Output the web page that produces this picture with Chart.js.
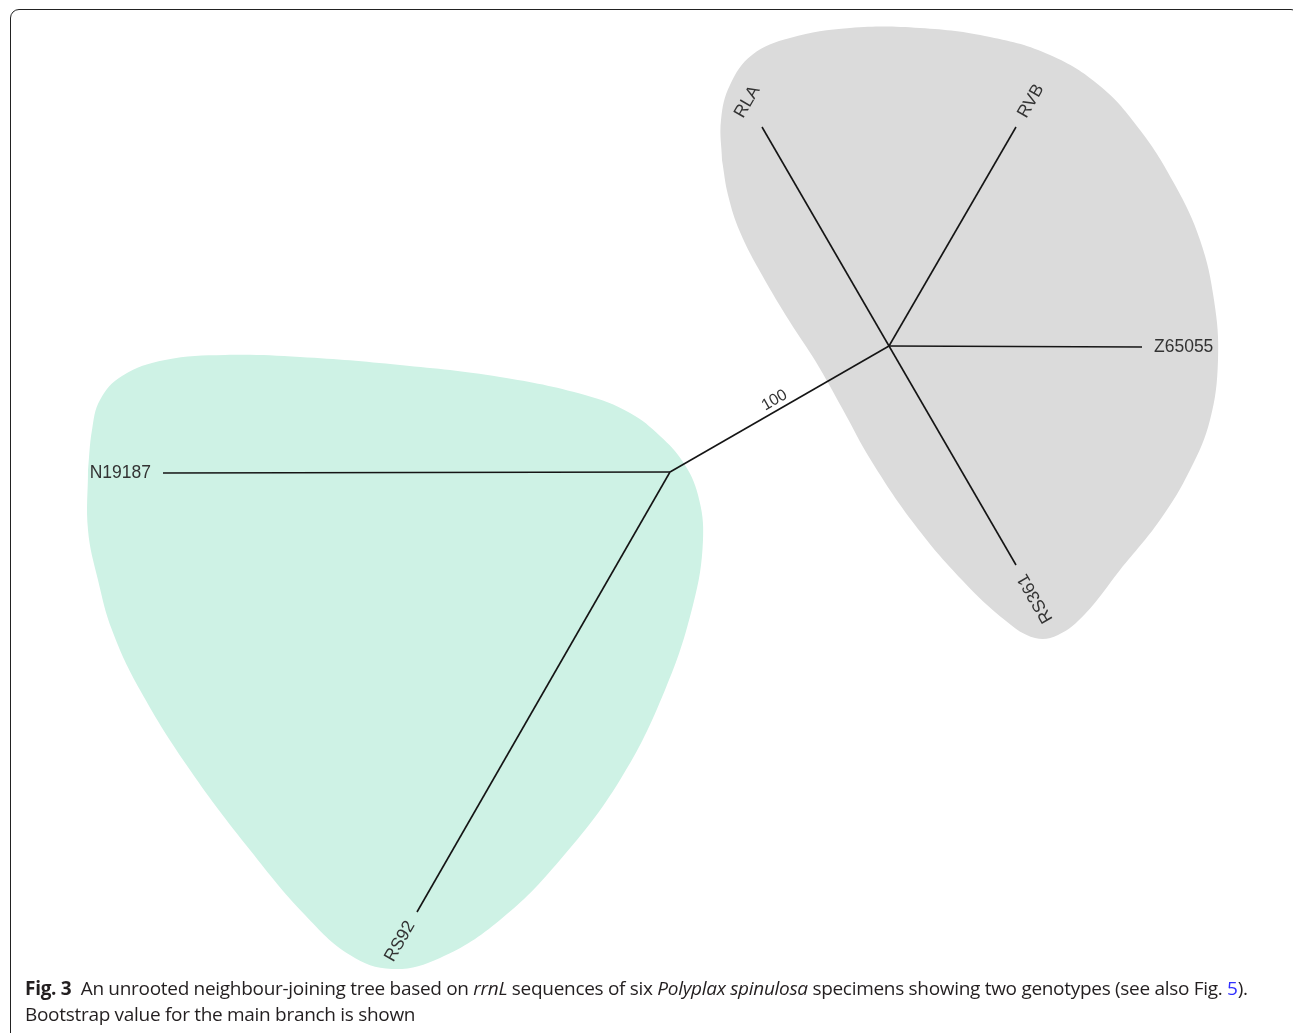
<!DOCTYPE html>
<html>
<head>
<meta charset="utf-8">
<script src="https://cdn.jsdelivr.net/npm/chart.js@4.4.0/dist/chart.umd.min.js"></script>
<style>
  html, body { margin: 0; padding: 0; background: #fff; }
  body { width: 1293px; height: 1033px; position: relative; overflow: hidden; }
  #frame {
    position: absolute; left: 10px; top: 9px; width: 1290px; height: 1040px;
    border: 1.5px solid #222; border-radius: 9px; box-sizing: border-box;
  }
  #wrap { position: absolute; left: 0; top: 0; width: 1293px; height: 1033px; }
  #caption {
    position: absolute; left: 25px; top: 975px; width: 1265px;
    font-family: "Open Sans", sans-serif; font-size: 19px; line-height: 26px;
    color: #231f20; letter-spacing: -0.3px; white-space: nowrap;
  }
  #caption b { font-weight: 700; }
  #caption .ref { color: #3030ff; }
</style>
</head>
<body>
<div id="frame"></div>
<div id="wrap"><canvas id="tree" width="1293" height="1033"></canvas></div>
<div id="caption"><b>Fig. 3</b>&nbsp; An unrooted neighbour-joining tree based on <i>rrnL</i> sequences of six <i>Polyplax spinulosa</i> specimens showing two genotypes (see also Fig. <span class="ref">5</span>).<br>Bootstrap value for the main branch is shown</div>
<script>
// internal nodes (left genotype, right genotype)
const nodeX = [670, 889];
const nodeY = [472, 346];

// tips
const tipLabels = ['N19187', 'RS92', 'RLA', 'RVB', 'Z65055', 'RS361'];
const tipX = [163, 417, 762, 1016, 1142, 1016];
const tipY = [473, 912, 127, 127, 347, 565];
const tipParent = [0, 0, 1, 1, 1, 1];

const bootstrap = ['100'];

// genotype outlines
const greenX = [88, 88, 98, 112, 140, 190, 250, 305, 350, 392, 440, 500, 560, 620, 665, 693, 703, 698, 683, 660, 630, 585, 500, 400, 300, 225, 165, 122, 100, 92, 88];
const greenY = [470, 530, 580, 630, 690, 770, 850, 915, 955, 969, 958, 920, 860, 780, 690, 605, 540, 495, 462, 436, 413, 395, 377, 365, 357, 355, 360, 376, 400, 430, 470];
const greyX = [722, 721, 730, 752, 790, 850, 920, 990, 1050, 1100, 1140, 1175, 1200, 1214, 1218, 1210, 1190, 1160, 1120, 1085, 1058, 1035, 1006, 962, 915, 872, 842, 816, 790, 762, 740, 728, 722];
const greyY = [160, 120, 85, 55, 38, 28, 28, 37, 55, 86, 130, 185, 240, 300, 360, 420, 470, 520, 570, 614, 635, 638, 621, 580, 525, 462, 408, 362, 322, 275, 232, 195, 160];

const toPts = (xs, ys) => xs.map((x, i) => ({ x: x, y: ys[i] }));

const branchSets = tipLabels.map((name, i) => ({
  label: name,
  data: [{ x: nodeX[tipParent[i]], y: nodeY[tipParent[i]] }, { x: tipX[i], y: tipY[i] }],
  showLine: true, borderColor: '#151515', borderWidth: 1.6,
  pointRadius: 0, fill: false, order: 1
}));
branchSets.push({
  label: 'main',
  data: [{ x: nodeX[0], y: nodeY[0] }, { x: nodeX[1], y: nodeY[1] }],
  showLine: true, borderColor: '#151515', borderWidth: 1.6,
  pointRadius: 0, fill: false, order: 1
});

// label rotation (deg) for each tip, as drawn in the figure
const labelRot = [0, -60, -60, -60, 0, -120];

const treeLabels = {
  id: 'treeLabels',
  afterDatasetsDraw(chart) {
    const { ctx, scales: { x, y } } = chart;
    ctx.save();
    ctx.fillStyle = '#333';
    ctx.font = '17.5px "Liberation Sans", Arial, sans-serif';
    ctx.textAlign = 'center';
    ctx.textBaseline = 'middle';
    tipLabels.forEach((name, i) => {
      const p = tipParent[i];
      const px = x.getPixelForValue(tipX[i]), py = y.getPixelForValue(tipY[i]);
      const dx = px - x.getPixelForValue(nodeX[p]), dy = py - y.getPixelForValue(nodeY[p]);
      const len = Math.hypot(dx, dy);
      const w = ctx.measureText(name).width;
      const d = 12 + w / 2;
      ctx.save();
      ctx.translate(px + dx / len * d, py + dy / len * d);
      ctx.rotate(labelRot[i] * Math.PI / 180);
      ctx.fillText(name, 0, 0);
      ctx.restore();
    });
    // bootstrap value on main branch
    const ax = x.getPixelForValue(nodeX[0]), ay = y.getPixelForValue(nodeY[0]);
    const bx = x.getPixelForValue(nodeX[1]), by = y.getPixelForValue(nodeY[1]);
    const ang = Math.atan2(by - ay, bx - ax);
    ctx.font = '16px "Liberation Sans", Arial, sans-serif';
    ctx.save();
    ctx.translate(ax + (bx - ax) * 0.5, ay + (by - ay) * 0.5);
    ctx.rotate(ang);
    ctx.fillText(bootstrap[0], 0, -10);
    ctx.restore();
    ctx.restore();
  }
};

new Chart(document.getElementById('tree'), {
  type: 'scatter',
  data: {
    datasets: [
      ...branchSets,
      {
        label: 'genotype 2', data: toPts(greyX, greyY), showLine: true,
        fill: 'shape', backgroundColor: 'rgb(219,219,219)', borderWidth: 0,
        borderColor: 'rgba(0,0,0,0)', pointRadius: 0, tension: 0.4, order: 2
      },
      {
        label: 'genotype 1', data: toPts(greenX, greenY), showLine: true,
        fill: 'shape', backgroundColor: 'rgb(206,242,229)', borderWidth: 0,
        borderColor: 'rgba(0,0,0,0)', pointRadius: 0, tension: 0.4, order: 2
      }
    ]
  },
  options: {
    responsive: false,
    animation: false,
    layout: { padding: 0 },
    scales: {
      x: { type: 'linear', min: 0, max: 1293, display: false },
      y: { type: 'linear', min: 0, max: 1033, reverse: true, display: false }
    },
    plugins: {
      legend: { display: false },
      tooltip: { enabled: false }
    }
  },
  plugins: [treeLabels]
});
</script>
</body>
</html>
